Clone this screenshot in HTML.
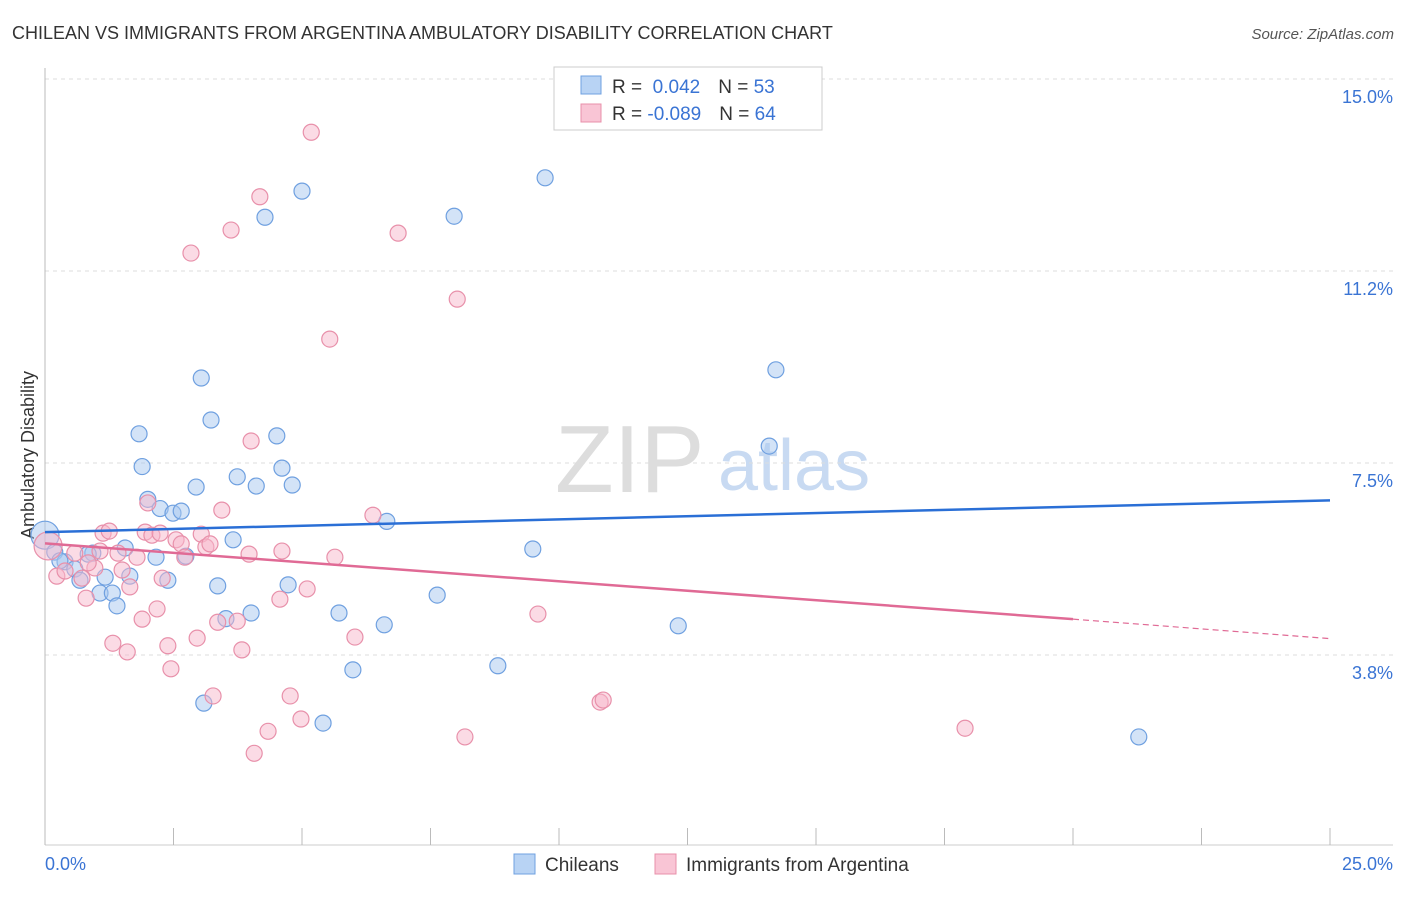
<!DOCTYPE html>
<html><head><meta charset="utf-8"><style>
body{margin:0;background:#fff;font-family:"Liberation Sans",sans-serif;}
svg text{font-family:"Liberation Sans",sans-serif;}
</style></head><body>
<svg id="chart" width="1406" height="892">
<text x="12" y="39" font-size="18" fill="#333">CHILEAN VS IMMIGRANTS FROM ARGENTINA AMBULATORY DISABILITY CORRELATION CHART</text>
<text x="1394" y="39" font-size="15" fill="#555" text-anchor="end" font-style="italic">Source: ZipAtlas.com</text>
<text x="555" y="492" font-size="96" fill="#ddd" font-family="Liberation Serif">ZIP</text>
<text x="718" y="490" font-size="72" fill="#c8daf2">atlas</text>
<g id="grid"></g>
<g id="axes"></g>
<text transform="translate(34,455) rotate(-90)" font-size="18" fill="#333" text-anchor="middle">Ambulatory Disability</text>
<text x="45" y="870" font-size="18" fill="#3a74d4">0.0%</text>
<text x="1393" y="870" font-size="18" fill="#3a74d4" text-anchor="end">25.0%</text>
<g id="points"></g>
<g id="trends"></g>
<g>
<rect x="554" y="67" width="268" height="63" fill="#fff" stroke="#ccc"/>
<rect x="581" y="76" width="20" height="18" fill="#b8d3f4" stroke="#6fa0e0"/>
<rect x="581" y="104" width="20" height="18" fill="#f9c5d5" stroke="#e890aa"/>
<text x="612" y="93" font-size="19" fill="#333">R = <tspan fill="#3a74d4">&#160;0.042</tspan><tspan dx="18">N = </tspan><tspan fill="#3a74d4">53</tspan></text>
<text x="612" y="120" font-size="19" fill="#333">R = <tspan fill="#3a74d4">-0.089</tspan><tspan dx="18">N = </tspan><tspan fill="#3a74d4">64</tspan></text>
</g>
<g>
<rect x="514" y="854" width="21" height="20" fill="#b8d3f4" stroke="#6fa0e0"/>
<text x="545" y="871" font-size="19" fill="#333">Chileans</text>
<rect x="655" y="854" width="21" height="20" fill="#f9c5d5" stroke="#e890aa"/>
<text x="686" y="871" font-size="19" fill="#333">Immigrants from Argentina</text>
</g>
</svg>
<script>
const yTicks=[15.0,11.25,7.5,3.75];
const yTickLabels=["15.0%","11.2%","7.5%","3.8%"];
const xTicks=[0,2.5,5,7.5,10,12.5,15,17.5,20,22.5,25];
const blueX=[0,0.19,0.39,0.58,0.68,0.93,0.84,1.07,1.17,1.31,1.40,1.56,1.65,1.83,1.89,2.00,2.16,2.24,2.39,2.49,2.65,2.74,2.94,3.04,3.09,3.23,3.36,3.52,3.66,3.74,4.01,4.11,4.28,4.51,4.61,4.73,4.81,5.00,5.41,5.72,5.99,6.60,6.65,7.63,7.96,8.81,9.49,9.73,12.32,14.09,14.22,21.28,0.29];
const blueY=[6.09,5.76,5.57,5.43,5.21,5.74,5.72,4.96,5.27,4.96,4.71,5.84,5.29,8.07,7.43,6.79,5.66,6.61,5.21,6.52,6.56,5.68,7.03,9.16,2.81,8.34,5.10,4.46,6.00,7.23,4.57,7.05,12.30,8.03,7.40,5.12,7.07,12.81,2.42,4.57,3.46,4.34,6.36,4.92,12.32,3.54,5.82,13.07,4.32,7.83,9.32,2.15,5.59];
const pinkX=[0.06,0.23,0.39,0.58,0.72,0.80,0.97,1.07,1.13,1.25,1.32,1.42,1.50,1.60,1.65,1.79,1.89,1.95,2.00,2.08,2.18,2.28,2.39,2.45,2.55,2.65,2.72,2.84,2.96,3.04,3.13,3.21,3.27,3.36,3.44,3.62,3.74,3.83,3.97,4.01,4.07,4.18,4.34,4.57,4.61,4.77,4.98,5.10,5.18,5.54,5.64,6.03,6.38,6.87,8.02,8.17,9.59,10.80,10.86,17.90,0.84,2.24];
const pinkY=[5.88,5.29,5.39,5.74,5.25,4.86,5.45,5.78,6.13,6.17,3.98,5.74,5.41,3.81,5.08,5.66,4.45,6.15,6.72,6.09,4.65,5.25,3.93,3.48,6.00,5.92,5.66,11.60,4.08,6.11,5.86,5.92,2.95,4.39,6.58,12.05,4.41,3.85,5.72,7.93,1.83,12.70,2.26,4.84,5.78,2.95,2.50,5.04,13.96,9.92,5.66,4.10,6.48,11.99,10.70,2.15,4.55,2.83,2.87,2.32,5.55,6.13];
const blueTrend=[6.15,6.77];
const pinkTrend=[5.93,4.45,4.07];
const ns="http://www.w3.org/2000/svg";
const X=v=>45+v*51.4, Y=v=>79+(15-v)*51.2;
function mk(t,a,p){const e=document.createElementNS(ns,t);for(const k in a)e.setAttribute(k,a[k]);p.appendChild(e);return e;}
const grid=document.getElementById('grid'),axes=document.getElementById('axes'),pts=document.getElementById('points'),tr=document.getElementById('trends');
yTicks.forEach((v,i)=>{
 const l=mk('line',{x1:45,x2:1393,y1:Y(v),y2:Y(v),stroke:'#ddd','stroke-dasharray':'4,4'},grid);
 
 
 const t=mk('text',{x:1393,y:Y(v)+24,'font-size':18,fill:'#3a74d4','text-anchor':'end'},grid);
 t.textContent=yTickLabels[i];
 
 
});
const ax=mk('line',{x1:45,x2:45,y1:68,y2:845,stroke:'#bbb'},axes);


const bx=mk('line',{x1:45,x2:1393,y1:845,y2:845,stroke:'#ccc'},axes);


xTicks.forEach(v=>{
 const t=mk('line',{x1:X(v),x2:X(v),y1:828,y2:845,stroke:'#bbb'},axes);
 
 
});
function dots(xs,ys,fill,stroke,name){
 xs.forEach((x,i)=>{
  const c=mk('circle',{cx:X(x),cy:Y(ys[i]),r:i===0?14:8,fill:fill,'fill-opacity':0.5,stroke:stroke,'stroke-width':1.2},pts);
  
  
 });
}
dots(blueX,blueY,'#a7c8f0','#6fa0e0','chilean-point');
dots(pinkX,pinkY,'#f7b8cc','#e890aa','argentina-point');
const b=mk('line',{x1:X(0),x2:X(25),y1:Y(blueTrend[0]),y2:Y(blueTrend[1]),stroke:'#2a6fd6','stroke-width':2.5},tr);


const p=mk('line',{x1:X(0),x2:X(20),y1:Y(pinkTrend[0]),y2:Y(pinkTrend[1]),stroke:'#e06a95','stroke-width':2.5},tr);


const pd=mk('line',{x1:X(20),x2:X(25),y1:Y(pinkTrend[1]),y2:Y(pinkTrend[2]),stroke:'#e06a95','stroke-width':1.2,'stroke-dasharray':'6,4'},tr);


</script>
</body></html>
